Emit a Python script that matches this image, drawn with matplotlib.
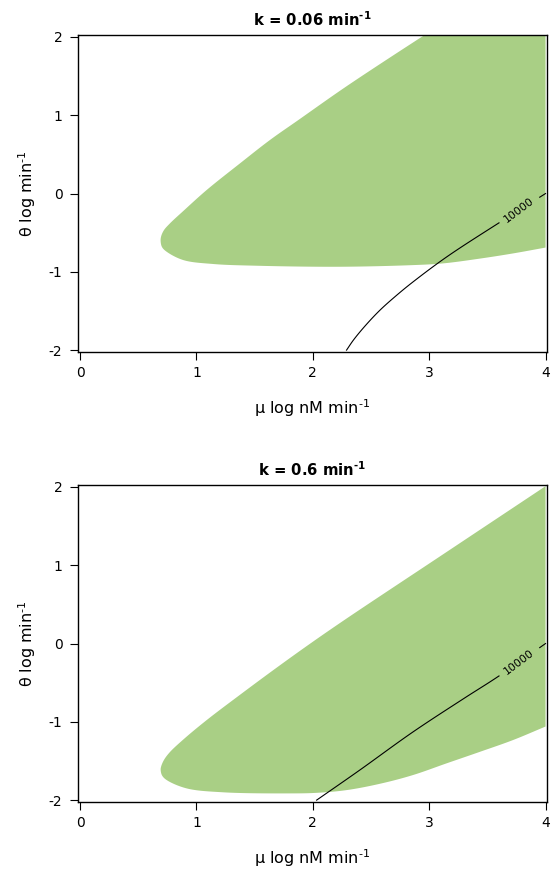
import matplotlib
matplotlib.use("Agg")
import matplotlib.pyplot as plt
import numpy as np

plt.rcParams["font.family"] = ["DejaVu Sans"]
plt.rcParams["mathtext.fontset"] = "dejavusans"
plt.rcParams["axes.unicode_minus"] = False

GREEN = "#a9cf85"

# panel 1: k = 0.06 min^-1
k1_title = "0.06"
upper1_x = [0.693, 0.696, 0.72, 0.77, 0.888, 1.088, 1.375, 1.632, 1.876, 2.291, 2.935, 3.02]
upper1_y = [-0.616, -0.552, -0.47, -0.385, -0.222, 0.045, 0.386, 0.684, 0.939, 1.371, 2.0, 2.08]
lower1_x = [0.693, 0.705, 0.745, 0.888, 1.145, 1.518, 2.234, 2.86, 3.12, 3.44, 3.72, 4.0]
lower1_y = [-0.616, -0.685, -0.744, -0.85, -0.90, -0.922, -0.935, -0.914, -0.892, -0.83, -0.765, -0.69]
cont1_x = [2.29, 2.35, 2.45, 2.577, 2.72, 2.86, 3.15, 3.594, 4.0]
cont1_y = [-2.0, -1.87, -1.69, -1.49, -1.30, -1.13, -0.81, -0.38, 0.0]

# panel 2: k = 0.6 min^-1
k2_title = "0.6"
upper2_x = [0.693, 0.696, 0.72, 0.77, 0.888, 1.088, 1.375, 1.661, 1.948, 2.262, 3.12, 4.0]
upper2_y = [-1.617, -1.575, -1.49, -1.39, -1.225, -0.978, -0.654, -0.339, -0.032, 0.291, 1.14, 2.01]
lower2_x = [0.693, 0.705, 0.745, 0.916, 1.23, 1.804, 2.03, 2.29, 2.58, 2.86, 3.15, 3.436, 3.72, 4.0]
lower2_y = [-1.617, -1.685, -1.744, -1.85, -1.90, -1.914, -1.907, -1.872, -1.79, -1.68, -1.53, -1.383, -1.233, -1.06]
cont2_x = [2.033, 2.4, 2.86, 3.3, 3.594, 4.0]
cont2_y = [-2.0, -1.62, -1.13, -0.7, -0.42, 0.0]

contour_level = "10000"
label_gap = (3.6, 3.95)

xticks = [0, 1, 2, 3, 4]
yticks = [-2, -1, 0, 1, 2]

W, H = 552, 871
ASPECT = 116.4 / 78.25  # px per x unit / px per y unit


def smooth(x, y, n=16):
    # centripetal catmull-rom through the read-off points (in screen-like units)
    P = np.column_stack([np.asarray(x, float) * ASPECT, np.asarray(y, float)])
    P = np.vstack([2 * P[0] - P[1], P, 2 * P[-1] - P[-2]])
    out = []
    for i in range(1, len(P) - 2):
        p0, p1, p2, p3 = P[i - 1:i + 3]
        t0 = 0.0
        t1 = t0 + np.linalg.norm(p1 - p0) ** 0.5 + 1e-9
        t2 = t1 + np.linalg.norm(p2 - p1) ** 0.5 + 1e-9
        t3 = t2 + np.linalg.norm(p3 - p2) ** 0.5 + 1e-9
        t = np.linspace(t1, t2, n, endpoint=False)[:, None]
        a1 = (t1 - t) / (t1 - t0) * p0 + (t - t0) / (t1 - t0) * p1
        a2 = (t2 - t) / (t2 - t1) * p1 + (t - t1) / (t2 - t1) * p2
        a3 = (t3 - t) / (t3 - t2) * p2 + (t - t2) / (t3 - t2) * p3
        b1 = (t2 - t) / (t2 - t0) * a1 + (t - t0) / (t2 - t0) * a2
        b2 = (t3 - t) / (t3 - t1) * a2 + (t - t1) / (t3 - t1) * a3
        out.append((t2 - t) / (t2 - t1) * b1 + (t - t1) / (t2 - t1) * b2)
    out.append(P[-2][None])
    S = np.vstack(out)
    return S[:, 0] / ASPECT, S[:, 1]


fig = plt.figure(figsize=(W / 100, H / 100), dpi=100)


def panel(top_px, ktxt, ux, uy, lx, ly, cx, cy):
    left, right, bottom = 77.7, 546.7, top_px + 316.7
    ax = fig.add_axes([left / W, 1 - bottom / H, (right - left) / W, 316.7 / H])
    ax.set_xlim(-0.02, 4.01)
    ax.set_ylim(-2.02, 2.025)

    # feasible region: upper edge down to the tip, lower edge out to the right
    ox, oy = smooth(list(ux[::-1]) + list(lx[1:]), list(uy[::-1]) + list(ly[1:]))
    top = max(uy) + 0.05
    ax.fill(np.r_[ux[-1], ox, lx[-1], 4.0], np.r_[top, oy, top, top], color=GREEN, lw=0)

    # contour line with a gap for its label
    sx, sy = smooth(cx, cy)
    g0, g1 = label_gap
    m = sx <= g0
    ax.plot(np.r_[sx[m], g0], np.r_[sy[m], np.interp(g0, sx, sy)], color="black", lw=0.8)
    m = sx >= g1
    ax.plot(np.r_[g1, sx[m]], np.r_[np.interp(g1, sx, sy), sy[m]], color="black", lw=0.8)
    lxm = (g0 + g1) / 2
    ax.text(lxm, np.interp(lxm, sx, sy), contour_level, rotation=37, fontsize=7.8,
            ha="center", va="center", rotation_mode="anchor")

    ax.set_xticks(xticks)
    ax.set_yticks(yticks)
    ax.tick_params(direction="out", length=5.5, width=0.8, labelsize=10)
    ax.tick_params(axis="x", pad=4.5)
    ax.tick_params(axis="y", pad=5.5)
    for s in ax.spines.values():
        s.set_linewidth(1.0)

    ax.set_title("k = %s min$^{\\mathbf{\u2010 1}}$" % ktxt, fontsize=10.7,
                 fontweight="bold", y=1.028, pad=0)
    ax.set_xlabel("\u03bc log nM min$^{\u2010 1}$", fontsize=11.5)
    ax.xaxis.set_label_coords(0.5, -0.197)
    ax.xaxis.label.set_va("baseline")
    ax.set_ylabel("\u03b8 log min$^{\u2010 1}$", fontsize=11.5)
    ax.yaxis.set_label_coords(-0.0947, 0.5)
    ax.yaxis.label.set_va("baseline")
    return ax


panel(35.0, k1_title, upper1_x, upper1_y, lower1_x, lower1_y, cont1_x, cont1_y)
panel(485.0, k2_title, upper2_x, upper2_y, lower2_x, lower2_y, cont2_x, cont2_y)

fig.savefig("out.png", dpi=100)
